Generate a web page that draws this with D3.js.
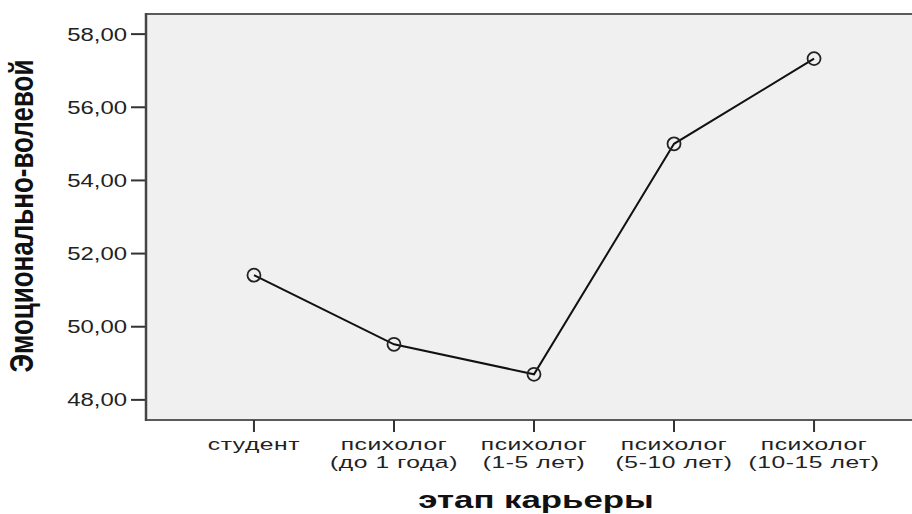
<!DOCTYPE html>
<html><head><meta charset="utf-8">
<script src="https://cdn.jsdelivr.net/npm/d3@7"></script>
<style>body{margin:0;background:#fff}svg{display:block}</style>
</head><body>
<svg id="c" width="912" height="514"></svg>
<script>
const categories = [["студент"],["психолог","(до 1 года)"],["психолог","(1-5 лет)"],["психолог","(5-10 лет)"],["психолог","(10-15 лет)"]];
const values = [51.41, 49.52, 48.70, 55.00, 57.33];
const yTicks = [48,50,52,54,56,58];
const yTitle = "Эмоционально-волевой";
const xTitle = "этап карьеры";

(function(){
const svg = d3.select("#c");
const W = 912;
const mL = 146, mT = 14, mB = 420;
const SX = 1.33;
const font = "'Liberation Sans', Arial, sans-serif";

const keys = categories.map(c => c.join(" "));
const x = d3.scalePoint().domain(keys).range([mL, 922]).padding(0.771);
const y = d3.scaleLinear().domain([47.45, 58.55]).range([mB, mT]);

svg.append("rect").attr("x", mL).attr("y", mT).attr("width", W - mL + 10).attr("height", mB - mT)
  .attr("fill", "#f0f0f0").attr("stroke", "#5a5a5a").attr("stroke-width", 2);

const yg = svg.append("g");
yTicks.forEach(t => {
  yg.append("line").attr("x1", mL - 15).attr("x2", mL).attr("y1", y(t)).attr("y2", y(t))
    .attr("stroke", "#333").attr("stroke-width", 2);
  yg.append("text").attr("transform", `translate(${mL - 19},${y(t)}) scale(${SX},1)`)
    .attr("text-anchor", "end").attr("dy", "0.36em")
    .attr("font-family", font).attr("font-size", 18).attr("fill", "#222")
    .text(d3.format(".2f")(t).replace(".", ","));
});
svg.append("line").attr("x1", mL).attr("x2", mL).attr("y1", mT - 1).attr("y2", mB + 1)
  .attr("stroke", "#444").attr("stroke-width", 2.5);

const xg = svg.append("g");
categories.forEach((c, i) => {
  const cx = x(keys[i]);
  xg.append("line").attr("x1", cx).attr("x2", cx).attr("y1", mB).attr("y2", mB + 12)
    .attr("stroke", "#333").attr("stroke-width", 2);
  c.forEach((ln, j) => {
    xg.append("text").attr("transform", `translate(${cx},${450 + j * 18}) scale(1.45,1)`)
      .attr("text-anchor", "middle").attr("font-family", font).attr("font-size", 17).attr("fill", "#222")
      .attr("letter-spacing", 0.4)
      .text(ln);
  });
});

const pts = values.map((v, i) => [x(keys[i]), y(v)]);
svg.append("path").attr("d", d3.line()(pts)).attr("fill", "none").attr("stroke", "#111").attr("stroke-width", 2);
svg.selectAll("circle.m").data(pts).enter().append("circle")
  .attr("cx", d => d[0]).attr("cy", d => d[1]).attr("r", 6.5)
  .attr("fill", "none").attr("stroke", "#222").attr("stroke-width", 1.8);

svg.append("text").attr("transform", `translate(33,216) scale(1.25,1) rotate(-90)`)
  .attr("text-anchor", "middle").attr("font-family", font).attr("font-weight", "bold")
  .attr("font-size", 26).attr("fill", "#111").text(yTitle);
svg.append("text").attr("transform", `translate(536,508) scale(1.45,1)`)
  .attr("text-anchor", "middle").attr("font-family", font).attr("font-weight", "bold")
  .attr("font-size", 24).attr("fill", "#111").text(xTitle);
})();
</script>
</body></html>
